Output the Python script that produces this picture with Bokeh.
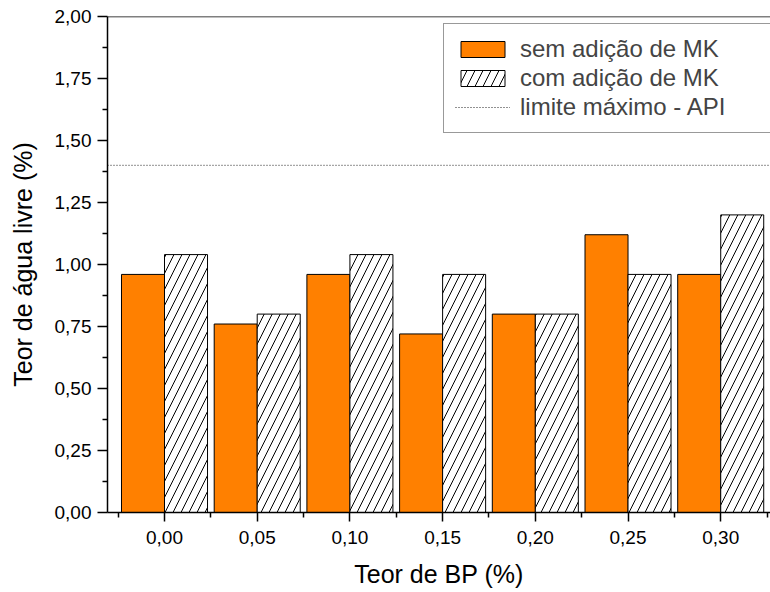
from bokeh.plotting import figure
from bokeh.models import (FixedTicker, Range1d, Span, Legend, LegendItem, ColumnDataSource)
from bokeh.embed import file_html
from bokeh.resources import INLINE
import numpy as np

# ---- data ----
categories = ["0,00", "0,05", "0,10", "0,15", "0,20", "0,25", "0,30"]
sem_mk = [0.96, 0.76, 0.96, 0.72, 0.80, 1.12, 0.96]
com_mk = [1.04, 0.80, 1.04, 0.96, 0.80, 0.96, 1.20]
limite_api = 1.40
y_ticks = [0.0, 0.25, 0.5, 0.75, 1.0, 1.25, 1.5, 1.75, 2.0]
y_tick_labels = ["0,00", "0,25", "0,50", "0,75", "1,00", "1,25", "1,50", "1,75", "2,00"]

FONT = "Liberation Sans"
bar_w = 0.464
x_idx = np.arange(len(categories), dtype=float)
x_start, x_end = -0.615, 6.537

p = figure(width=770, height=590, output_backend="svg", toolbar_location=None,
           x_range=Range1d(x_start, x_end), y_range=Range1d(0, 2.0),
           min_border_left=107, min_border_right=0, min_border_top=16, min_border_bottom=78)
p.outline_line_color = None
p.xgrid.visible = False
p.ygrid.visible = False
p.background_fill_color = "white"
p.border_fill_color = "white"

src1 = ColumnDataSource(dict(x=x_idx - bar_w / 2, top=sem_mk))
src2 = ColumnDataSource(dict(x=x_idx + bar_w / 2, top=com_mk))
r1 = p.vbar(x="x", top="top", width=bar_w, source=src1, fill_color="#FF8000",
            line_color="black", line_width=1)
r2 = p.vbar(x="x", top="top", width=bar_w, source=src2, fill_color="white",
            line_color="black", line_width=1, hatch_pattern="/", hatch_color="black",
            hatch_weight=1, hatch_scale=16)
r3 = p.line(x=[x_start, x_end], y=[limite_api, limite_api], line_color="#222222",
            line_width=1, line_dash="1 2")

# top border line
p.add_layout(Span(location=2.0, dimension="width", line_color="black", line_width=1.5))

# axes
xa = p.xaxis[0]
xa.ticker = FixedTicker(ticks=list(x_idx), minor_ticks=list(np.arange(-0.5, 7.0, 1.0)))
xa.major_label_overrides = {float(i): c for i, c in zip(x_idx, categories)}
ya = p.yaxis[0]
ya.ticker = FixedTicker(ticks=y_ticks, minor_ticks=list(np.arange(0.125, 2.0, 0.25)))
ya.major_label_overrides = {t: l for t, l in zip(y_ticks, y_tick_labels)}

for ax in (xa, ya):
    ax.axis_line_width = 1.5
    ax.axis_line_color = "black"
    ax.major_tick_line_width = 1.5
    ax.minor_tick_line_width = 1.5
    ax.major_tick_in = 0
    ax.minor_tick_in = 0
    ax.major_label_text_font = FONT
    ax.major_label_text_font_size = "19px"
    ax.major_label_text_color = "black"
    ax.axis_label_text_font = FONT
    ax.axis_label_text_font_style = "normal"
    ax.axis_label_text_color = "black"
    ax.axis_label_text_font_size = "25px"

xa.major_tick_out = 9
xa.minor_tick_out = 5
xa.major_label_standoff = 9
xa.axis_label = "Teor de BP (%)"
xa.axis_label_standoff = 13
ya.major_tick_out = 10
ya.minor_tick_out = 5
ya.major_label_standoff = 6
ya.axis_label = "Teor de água livre (%)"
ya.axis_label_standoff = 15

legend = Legend(items=[LegendItem(label="sem adição de MK", renderers=[r1]),
                       LegendItem(label="com adição de MK", renderers=[r2]),
                       LegendItem(label="limite máximo - API", renderers=[r3])],
                location=(336, 379), padding=11, spacing=1, glyph_width=55,
                glyph_height=20, label_standoff=10, label_width=400, label_height=20,
                label_text_font=FONT, label_text_font_size="24px",
                border_line_color="#333333", border_line_width=1,
                background_fill_color="white", background_fill_alpha=1.0, margin=0)
p.add_layout(legend)

open("out.html", "w").write(file_html(p, INLINE))
